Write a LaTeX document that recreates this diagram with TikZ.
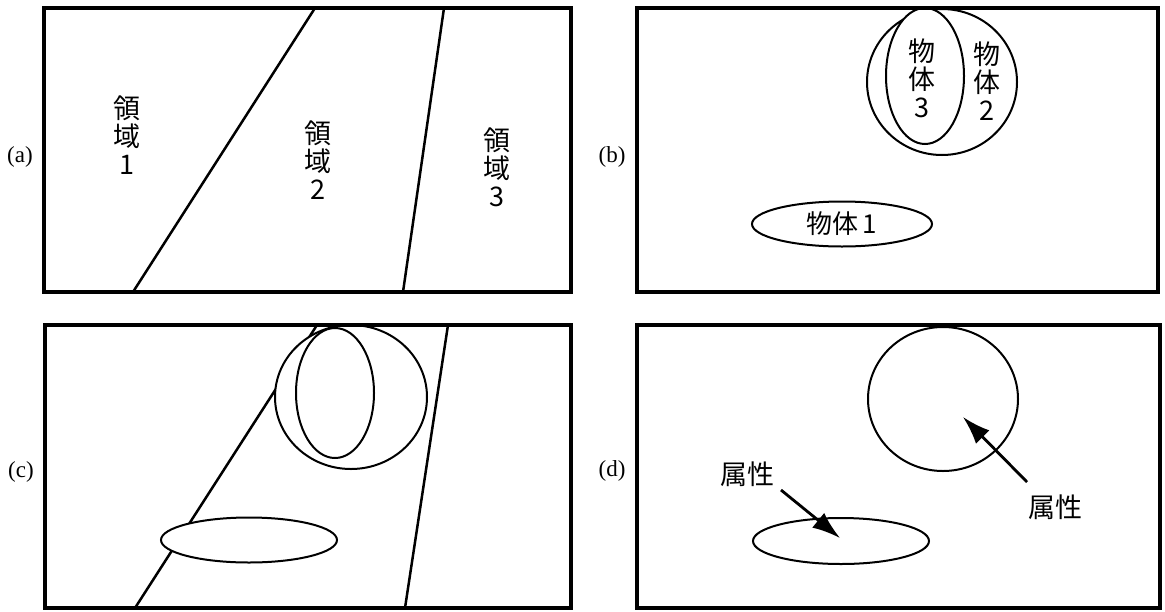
\documentclass[tikz,border=0pt]{standalone}
\usepackage{fontspec}
\setmainfont{Liberation Serif}
\newfontfamily\cjk{Noto Sans CJK JP}
\usetikzlibrary{shapes.geometric,arrows.meta}
\begin{document}
\begin{tikzpicture}[x=1pt,y=-1pt,
  frame/.style={line width=3.2pt},
  region/.style={line width=2.5pt},
  obj/.style={draw, ellipse, fill=white, line width=2pt, inner sep=0pt},
  vlabel/.style={font=\cjk\fontsize{27}{28}\selectfont, align=center, inner sep=0pt},
  hlabel/.style={font=\cjk\fontsize{27}{28}\selectfont, inner sep=0pt},
  tag/.style={font=\fontsize{23}{24}\selectfont, inner sep=0pt},
  attr/.style={line width=2.8pt, -{Latex[length=28pt,width=19pt]}}]
\useasboundingbox (0,0) rectangle (1165,611);

% ---------- (a) ----------
\coordinate (a1t) at (315,8);  \coordinate (a1b) at (133,292);
\coordinate (a2t) at (444,8);  \coordinate (a2b) at (403,292);
\draw[region] (a1t) -- (a1b);
\draw[region] (a2t) -- (a2b);
\draw[frame] (44,8) rectangle (571,292);
\node[vlabel] (r1) at (127,135) {領\\域\\1};
\node[vlabel] (r2) at (318,160) {領\\域\\2};
\node[vlabel] (r3) at (497,167) {領\\域\\3};
\node[tag] (ta) at (20,157) {(a)};

% ---------- (b) ----------
\node[obj, minimum width=150, minimum height=146] (b2) at (942,82) {};
\node[obj, minimum width=78, minimum height=136] (b3) at (925,76) {};
\node[vlabel] (l3) at (922,78) {物\\体\\3};
\node[vlabel] (l2) at (987,81) {物\\体\\2};
\node[obj, minimum width=180, minimum height=45, font=\cjk\fontsize{26}{27}\selectfont] (b1) at (842,224) {物体\,1};
\draw[frame] (637,8) rectangle (1158,292);
\node[tag] (tb) at (612,157) {(b)};

% ---------- (c) ----------
\coordinate (c1t) at (317,325);  \coordinate (c1b) at (135,608);
\coordinate (c2t) at (448,325);  \coordinate (c2b) at (405,608);
\draw[region] (c1t) -- (c1b);
\draw[region] (c2t) -- (c2b);
\node[obj, minimum width=152, minimum height=144] (c2) at (351,397) {};
\node[obj, minimum width=78, minimum height=130] (c3) at (335,393) {};
\node[obj, minimum width=176, minimum height=45] (c1) at (249,540) {};
\draw[frame] (45,325) rectangle (571,608);
\node[tag] (tc) at (21,472) {(c)};

% ---------- (d) ----------
\node[obj, minimum width=150, minimum height=144] (d2) at (943,399) {};
\node[obj, minimum width=176, minimum height=46] (d1) at (841,541) {};
\draw[frame] (637,325) rectangle (1160,608);
\node[tag] (td) at (612,471) {(d)};
\node[hlabel] (p1) at (747,474) {属性};
\node[hlabel] (p2) at (1055,507) {属性};
\coordinate (p1s) at (781,490);
\coordinate (p1e) at (840,538);
\coordinate (p2s) at (1027,482);
\coordinate (p2e) at (963,417);
\draw[attr] (p1s) -- (p1e);
\draw[attr] (p2s) -- (p2e);
\end{tikzpicture}
\end{document}
